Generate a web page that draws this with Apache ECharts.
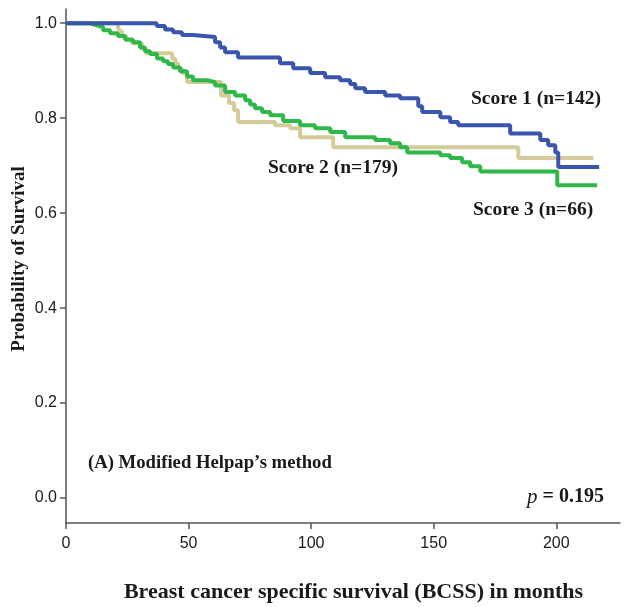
<!DOCTYPE html>
<html>
<head>
<meta charset="utf-8">
<script src="https://cdn.jsdelivr.net/npm/echarts@6/dist/echarts.min.js"></script>
<style>
  html, body { margin: 0; padding: 0; background: #fff; }
  #chart { width: 624px; height: 607px; }
</style>
</head>
<body>
<div id="chart"></div>
<script>
// Kaplan-Meier estimates: event times (months) and survival after each step
const score1Months = [0, 37, 40.4, 43.7, 47.3, 51.8, 60.8, 62.9, 64.9, 70.2, 87.3, 92.7, 99.6, 105.7, 111.8, 115.9, 118, 122, 130.2, 136.3, 143.7, 145.3, 152.7, 156.7, 160, 181.2, 193.5, 196.7, 199.6, 200.8, 217.5];
const score1Surv   = [1.0, 0.994, 0.987, 0.981, 0.975, 0.971, 0.96, 0.949, 0.939, 0.928, 0.916, 0.905, 0.895, 0.886, 0.88, 0.872, 0.863, 0.855, 0.848, 0.842, 0.825, 0.813, 0.802, 0.792, 0.785, 0.768, 0.754, 0.743, 0.728, 0.697, 0.697];

const score2Months = [0, 9.8, 12.2, 15.1, 18, 21.2, 24.1, 27.3, 30.2, 32.2, 34.3, 37.1, 39.6, 41.6, 43.7, 46.5, 49.4, 51.8, 57.6, 60.8, 64.9, 69, 73.1, 75.1, 77.1, 80, 83.3, 88.6, 95.5, 101.6, 107.8, 113.9, 126.1, 132.2, 136.3, 139.2, 152.7, 156.7, 161.6, 164.9, 169, 200.4, 216.7];
const score2Surv   = [1.0, 0.996, 0.992, 0.985, 0.979, 0.973, 0.966, 0.96, 0.949, 0.941, 0.935, 0.926, 0.92, 0.914, 0.907, 0.899, 0.888, 0.88, 0.876, 0.869, 0.855, 0.848, 0.838, 0.829, 0.821, 0.813, 0.806, 0.794, 0.785, 0.779, 0.771, 0.76, 0.754, 0.747, 0.739, 0.728, 0.722, 0.716, 0.707, 0.699, 0.688, 0.659, 0.659];

const score3Months = [0, 21.2, 22, 22.9, 24.5, 26.9, 31, 32.7, 43.3, 44.5, 45.7, 47.3, 49.4, 63.3, 66.5, 68.6, 70.2, 85.3, 91.4, 95.5, 109, 184.5, 215.1];
const score3Surv   = [1.0, 0.992, 0.983, 0.973, 0.964, 0.958, 0.947, 0.937, 0.926, 0.916, 0.905, 0.895, 0.876, 0.848, 0.832, 0.817, 0.792, 0.785, 0.779, 0.76, 0.739, 0.716, 0.716];

const xTicks = [0, 50, 100, 150, 200];
const yTicks = [0, 0.2, 0.4, 0.6, 0.8, 1.0];

function pairs(xs, ys) { return xs.map((x, i) => [x, ys[i]]); }

const serif = '"Liberation Serif", "DejaVu Serif", serif';
const sans = '"Liberation Sans", Arial, sans-serif';

function note(text, x, y, size, rich) {
  const style = { text: text, x: x, y: y, verticalAlign: 'middle',
    font: 'bold ' + size + 'px ' + serif, fill: '#1a1a1a' };
  if (rich) style.rich = rich;
  return { type: 'text', z: 10, style: style };
}

const chart = echarts.init(document.getElementById('chart'));
chart.setOption({
  animation: false,
  backgroundColor: '#ffffff',
  grid: { left: 66, right: 4, top: 9, bottom: 84, outerBoundsMode: 'none', containLabel: false },
  xAxis: {
    type: 'value', min: 0, max: 226,
    axisLine: { onZero: false, lineStyle: { color: '#555', width: 1.5 } },
    axisTick: { customValues: xTicks, length: 6, lineStyle: { color: '#555', width: 1.5 } },
    axisLabel: { customValues: xTicks, color: '#1a1a1a', fontFamily: sans, fontSize: 16, margin: 13 },
    splitLine: { show: false },
    name: 'Breast cancer specific survival (BCSS) in months',
    nameLocation: 'middle', nameGap: 58, nameMoveOverlap: false,
    nameTextStyle: { fontFamily: serif, fontWeight: 'bold', fontSize: 22, color: '#1a1a1a', padding: [0, 0, 0, 21] }
  },
  yAxis: {
    type: 'value', min: -0.0526, max: 1.03,
    axisLine: { show: true, lineStyle: { color: '#555', width: 1.5 } },
    axisTick: { show: true, customValues: yTicks, length: 6, lineStyle: { color: '#555', width: 1.5 } },
    axisLabel: { customValues: yTicks, color: '#1a1a1a', fontFamily: sans, fontSize: 16, margin: 9,
      formatter: v => v.toFixed(1) },
    splitLine: { show: false },
    name: 'Probability of Survival',
    nameLocation: 'middle', nameGap: 37, nameRotate: 90, nameMoveOverlap: false,
    nameTextStyle: { fontFamily: serif, fontWeight: 'bold', fontSize: 19, color: '#1a1a1a', padding: [0, 0, 0, 14] }
  },
  series: [
    { name: 'Score 3', type: 'line', step: 'end', showSymbol: false, z: 2,
      data: pairs(score3Months, score3Surv),
      lineStyle: { color: '#d5cb98', width: 4 } },
    { name: 'Score 2', type: 'line', step: 'end', showSymbol: false, z: 3,
      data: pairs(score2Months, score2Surv),
      lineStyle: { color: '#2fb84a', width: 4 } },
    { name: 'Score 1', type: 'line', step: 'end', showSymbol: false, z: 4,
      data: pairs(score1Months, score1Surv),
      lineStyle: { color: '#3a55ae', width: 4 } }
  ],
  graphic: [
    note('Score 1 (n=142)', 471, 99, 19.5),
    note('Score 2 (n=179)', 268, 168, 19.5),
    note('Score 3 (n=66)', 473, 210, 19.5),
    note('(A) Modified Helpap\u2019s method', 88, 463, 18.7),
    note('{i|p} = 0.195', 527, 497, 20,
      { i: { fontStyle: 'italic', fontWeight: 'normal', fontFamily: serif, fontSize: 21, fill: '#1a1a1a' } })
  ]
});
</script>
</body>
</html>
